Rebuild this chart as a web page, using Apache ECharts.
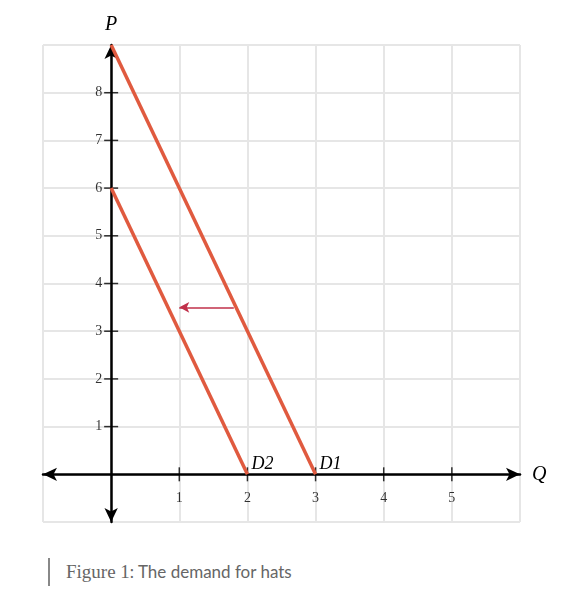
<!DOCTYPE html>
<html>
<head>
<meta charset="utf-8">
<script src="https://cdn.jsdelivr.net/npm/echarts@6/dist/echarts.min.js"></script>
<style>
  body { margin: 0; background: #fff; }
  #chart { width: 588px; height: 540px; }
  .cap { position: absolute; left: 48px; top: 558px; border-left: 2px solid #888; padding-left: 16px; height: 28px; line-height: 28px; color: #666; font-family: Lato, sans-serif; font-size: 17px; }
  .cap b { font-family: "Liberation Serif", serif; font-weight: normal; font-size: 19px; }
</style>
</head>
<body>
<div id="chart"></div>
<div class="cap"><b>Figure 1</b>: The demand for hats</div>
<script>
// demand curves (Q, P)
var d1 = [[0, 9], [3, 0]];
var d2 = [[0, 6], [2, 0]];
var shiftArrow = [[1.8, 3.5], [1, 3.5]];
var xTicks = [1, 2, 3, 4, 5];
var yTicks = [1, 2, 3, 4, 5, 6, 7, 8];

var serif = '"Liberation Serif", "DejaVu Serif", serif';
var tickStyle = { fontFamily: serif, fontSize: 14, color: '#000' };
var chart = echarts.init(document.getElementById('chart'));
chart.setOption({
    animation: false,
    grid: { left: 43, top: 45, width: 477, height: 477 },
    xAxis: {
        type: 'value', min: -1, max: 6, interval: 1,
        name: 'Q', nameGap: 12,
        nameTextStyle: { fontFamily: serif, fontStyle: 'italic', fontSize: 20, color: '#000' },
        axisLine: { onZero: true, symbol: ['arrow', 'arrow'], symbolSize: [10, 14], lineStyle: { color: '#000', width: 2.5 } },
        axisTick: { show: false },
        axisLabel: { show: false },
        splitLine: { lineStyle: { color: '#e6e6e6', width: 2 } }
    },
    yAxis: {
        type: 'value', min: -1, max: 9, interval: 1,
        name: 'P', nameGap: 10,
        nameTextStyle: { fontFamily: serif, fontStyle: 'italic', fontSize: 20, color: '#000' },
        axisLine: { onZero: true, symbol: ['arrow', 'arrow'], symbolSize: [10, 14], lineStyle: { color: '#000', width: 2.5 } },
        axisTick: { show: false },
        axisLabel: { show: false },
        splitLine: { lineStyle: { color: '#e6e6e6', width: 2 } }
    },
    series: [
        {
            // x tick marks + labels
            type: 'scatter', silent: true,
            data: xTicks.map(function(v) { return [v, 0]; }),
            symbol: 'rect', symbolSize: [1.5, 14], itemStyle: { color: '#000' },
            label: { show: true, position: 'bottom', distance: 10, formatter: function(p) { return p.value[0]; }, ...tickStyle }
        },
        {
            // y tick marks + labels
            type: 'scatter', silent: true,
            data: yTicks.map(function(v) { return [0, v]; }),
            symbol: 'rect', symbolSize: [14, 1.5], itemStyle: { color: '#000' },
            label: { show: true, position: 'left', distance: 2, formatter: function(p) { return p.value[1]; }, ...tickStyle }
        },
        {
            type: 'line', data: d1, symbol: 'none',
            lineStyle: { color: '#e05a3f', width: 3.5 },
            endLabel: { show: true, formatter: 'D1', fontFamily: serif, fontStyle: 'italic', fontSize: 18, color: '#000', offset: [-4, -10] }
        },
        {
            type: 'line', data: d2, symbol: 'none',
            lineStyle: { color: '#e05a3f', width: 3.5 },
            endLabel: { show: true, formatter: 'D2', fontFamily: serif, fontStyle: 'italic', fontSize: 18, color: '#000', offset: [-4, -10] }
        },
        {
            type: 'line', data: shiftArrow, symbol: 'none', silent: true,
            lineStyle: { width: 0 },
            markLine: {
                silent: true, symbol: ['none', 'arrow'], symbolSize: [8, 10],
                label: { show: false },
                lineStyle: { color: '#c0304a', width: 1.5, type: 'solid' },
                data: [[{ coord: shiftArrow[0] }, { coord: shiftArrow[1] }]]
            }
        }
    ]
});
</script>
</body>
</html>
